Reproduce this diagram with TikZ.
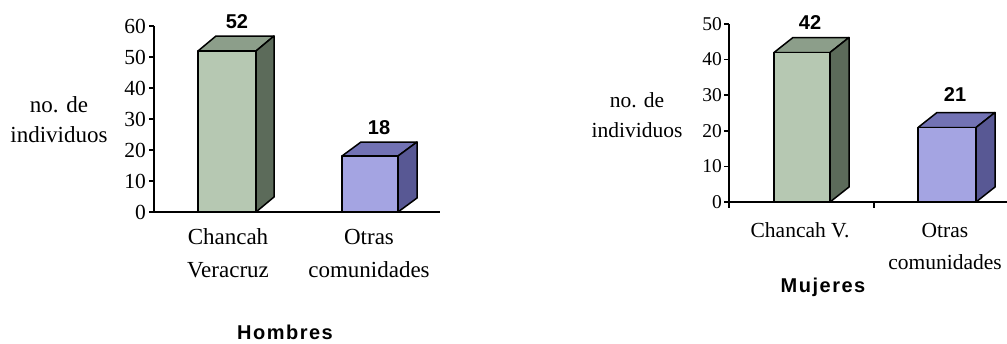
\documentclass[tikz,border=0pt]{standalone}
\usepackage{fontspec}
\setmainfont{Liberation Serif}
\newfontfamily\labsans{Liberation Sans}
\tikzset{
  axisline/.style={line width=1.6pt, black},
  barline/.style={line width=1.5pt, black, line join=round},
  gfront/.style={barline, fill=gfrontc},
  gtop/.style={barline, fill=gtopc},
  gside/.style={barline, fill=gsidec},
  bfront/.style={barline, fill=bfrontc},
  btop/.style={barline, fill=btopc},
  bside/.style={barline, fill=bsidec},
  ticklabL/.style={anchor=east, inner sep=0pt, font=\fontsize{21.5}{22}\selectfont},
  ticklabR/.style={anchor=east, inner sep=0pt, font=\fontsize{19.5}{20}\selectfont},
  txtL/.style={inner sep=0pt, font=\fontsize{23}{24}\selectfont},
  txtR/.style={inner sep=0pt, font=\fontsize{21.5}{22}\selectfont},
  vallab/.style={inner sep=0pt, font=\labsans\bfseries\fontsize{20}{22}\selectfont},
  titlab/.style={inner sep=0pt, font=\labsans\bfseries\fontsize{20}{22}\selectfont}
}
\definecolor{gfrontc}{HTML}{B6C8B2}
\definecolor{gtopc}{HTML}{8C9E8A}
\definecolor{gsidec}{HTML}{5C6B5A}
\definecolor{bfrontc}{HTML}{A4A4E2}
\definecolor{btopc}{HTML}{7272B4}
\definecolor{bsidec}{HTML}{585894}
% \cubebar{x1}{x2}{ytop}{ybase}{dx}{dy}{front}{top}{side}
\newcommand{\cubebar}[9]{%
  \draw[#8] (#1,#3) -- ++(#5,#6) -- ++(#2-#1,0) -- (#2,#3) -- cycle;
  \draw[#9] (#2,#4) -- ++(#5,#6) -- (#2+#5,#3+#6) -- (#2,#3) -- cycle;
  \draw[#7] (#1,#4) rectangle (#2,#3);
}
\begin{document}
\begin{tikzpicture}[x=1pt,y=-1pt]
\useasboundingbox (0,0) rectangle (1007,343);
% ---------------- Left chart (Hombres) ----------------
\cubebar{198}{256}{51}{212}{18}{-15}{gfront}{gtop}{gside}
\cubebar{342}{398}{156}{212}{19}{-14}{bfront}{btop}{bside}
\draw[axisline] (154,26) -- (154,212);
\draw[axisline] (154,212) -- (440,212);
\foreach \k in {0,...,6}{
  \draw[axisline] (149,212-\k*31) -- (154,212-\k*31);
  \node[ticklabL] (lt\k) at (146,212-\k*31) {\pgfmathparse{int(\k*10)}\pgfmathresult};
}
\node[vallab] (l52) at (237,22) {52};
\node[vallab] (l18) at (379,128) {18};
\node[txtL] (lno) at (59,105) {no. de};
\node[txtL] (lind) at (59,135) {individuos};
\node[txtL] (lc1) at (228,237) {Chancah};
\node[txtL] (lc2) at (228,270) {Veracruz};
\node[txtL] (lo1) at (369,237) {Otras};
\node[txtL] (lo2) at (369,270) {comunidades};
\node[titlab] (ltit) at (285,332) {H\kern1.5pt o\kern1.5pt m\kern1.5pt b\kern1.5pt r\kern1.5pt e\kern1.5pt s};
% ---------------- Right chart (Mujeres) ----------------
\cubebar{774}{830}{52.5}{202}{19}{-15}{gfront}{gtop}{gside}
\cubebar{918}{976}{127.5}{202}{19}{-15}{bfront}{btop}{bside}
\draw[axisline] (729,24) -- (729,208);
\draw[axisline] (729,202) -- (1007,202);
\draw[axisline] (874,202) -- (874,208);
\foreach \k in {0,...,5}{
  \draw[axisline] (724,202-\k*35.6) -- (729,202-\k*35.6);
  \node[ticklabR] (rt\k) at (722,202-\k*35.6) {\pgfmathparse{int(\k*10)}\pgfmathresult};
}
\node[vallab] (r42) at (810,23) {42};
\node[vallab] (r21) at (955,95) {21};
\node[txtR] (rno) at (637,100) {no. de};
\node[txtR] (rind) at (637,130) {individuos};
\node[txtR] (rc1) at (800,230) {Chancah V.};
\node[txtR] (ro1) at (945,230) {Otras};
\node[txtR] (ro2) at (945,262) {comunidades};
\node[titlab] (rtit) at (823,287) {M\kern1.5pt u\kern1.5pt j\kern1.5pt e\kern1.5pt r\kern1.5pt e\kern1.5pt s};
\end{tikzpicture}
\end{document}
